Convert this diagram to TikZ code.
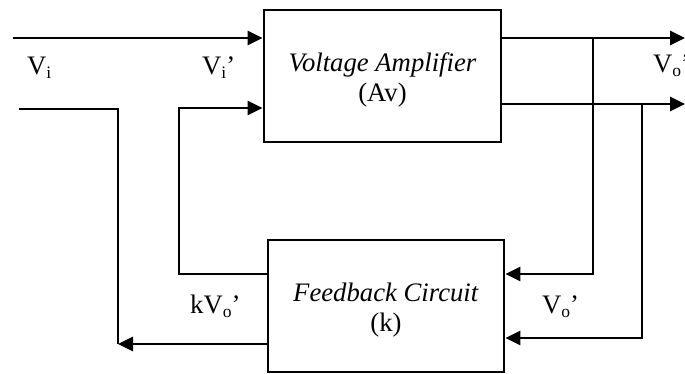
\documentclass[tikz,border=0pt]{standalone}
\usepackage{fontspec}
\setmainfont{Liberation Serif}
\usetikzlibrary{arrows.meta}
\newcommand\lsub[1]{\raisebox{-4pt}{\fontsize{17.5}{17.5}\selectfont #1}}
\newcommand\topstrut{\rule{0pt}{26pt}}
\begin{document}
\begin{tikzpicture}[x=1pt,y=-1pt,
  blk/.style={draw,line width=2.7pt,minimum width=237pt,minimum height=132pt,inner sep=0pt,align=center,font=\fontsize{26.7}{30}\selectfont},
  wire/.style={line width=2.7pt},
  arr/.style={wire,-{Triangle[length=15pt,width=14pt]}},
  lbl/.style={font=\fontsize{26.7}{30}\selectfont,inner sep=0pt}]
\useasboundingbox (0,0) rectangle (685,374);
\node[blk] (amp) at (382.5,76) {\topstrut\textit{Voltage Amplifier}\\(Av)};
\node[blk, minimum width=236pt] (fb) at (386,306) {\topstrut\textit{Feedback Circuit}\\(k)};
\coordinate (in1) at (13,38);
\coordinate (in2c) at (179,108);
\coordinate (fbo1) at (179,274);
\coordinate (l0) at (19,109);
\coordinate (lc) at (118,109);
\coordinate (lb) at (118,344);
\coordinate (o1) at (685,38);
\coordinate (o2) at (685,104);
\coordinate (j1) at (593,38);
\coordinate (j2) at (642,104);
\coordinate (j2b) at (642,338);
\draw[arr] (in1) -- (in1 -| amp.west);
\draw[arr] (fbo1 -| fb.west) -- (fbo1) -- (in2c) -- (in2c -| amp.west);
\draw[wire] (l0) -- (lc) -- (lb);
\draw[arr] (lb -| fb.west) -- (lb);
\draw[arr] (o1 -| amp.east) -- (o1);
\draw[arr] (o2 -| amp.east) -- (o2);
\draw[arr] (j1) |- (fb.east |- fbo1);
\draw[arr] (j2) -- (j2b) -- (j2b -| fb.east);
\node[lbl,anchor=base west] (vi) at (27,75) {V\lsub{i}};
\node[lbl,anchor=base west] (vip) at (202,75) {V\lsub{i}’};
\node[lbl,anchor=base west] (vo1) at (653,73) {V\lsub{o}’};
\node[lbl,anchor=base west] (kvo) at (190,313) {kV\lsub{o}’};
\node[lbl,anchor=base west] (vo2) at (542,313) {V\lsub{o}’};
\end{tikzpicture}
\end{document}
